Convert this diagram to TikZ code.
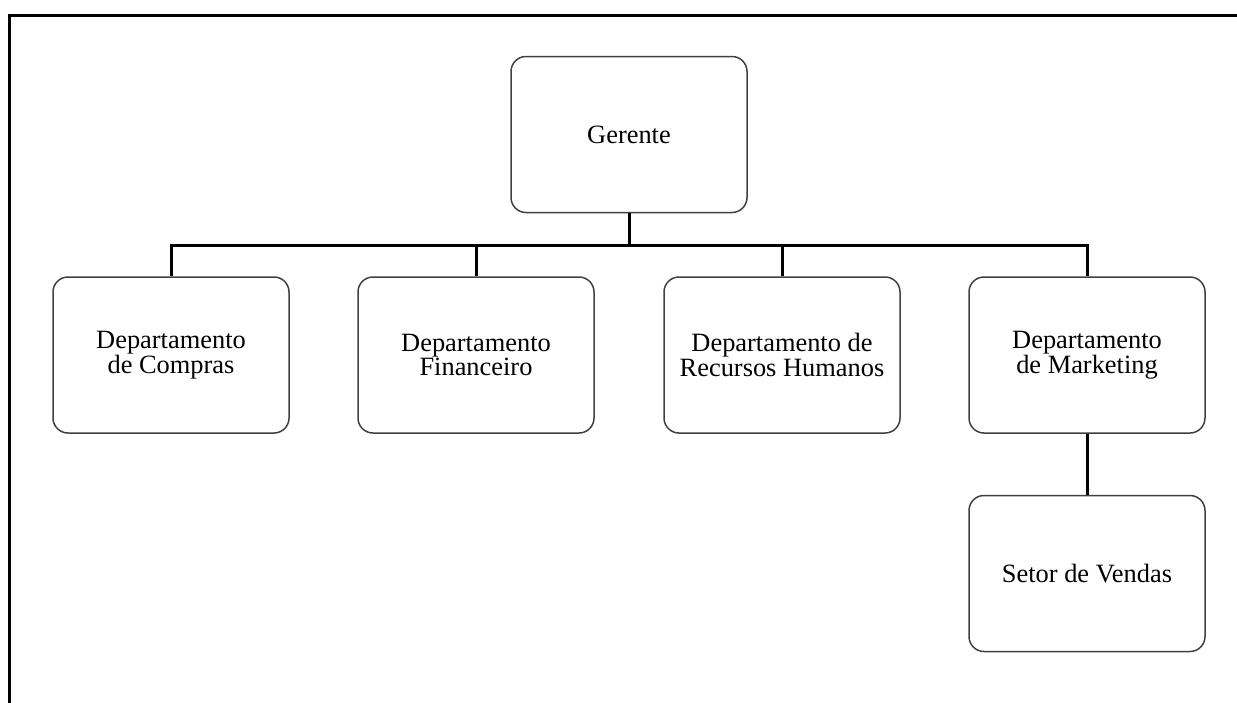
\documentclass[tikz,border=0pt]{standalone}
\usepackage{fontspec}
\setmainfont{Liberation Serif}
\tikzset{
  unit/.style={draw=black!75, line width=0.75pt, rounded corners=7.5pt,
    minimum width=118pt, minimum height=78pt, align=center,
    font=\fontsize{13.2}{12.2}\selectfont},
  link/.style={line width=1.5pt}
}
\begin{document}
\begin{tikzpicture}[x=0.5pt,y=-0.5pt]
       \useasboundingbox (0,0) rectangle (1237,702);
       \clip (0,0) rectangle (1237,702);
       \draw[line width=1.5pt] (9,720) -- (9,15) -- (1250,15);
       \node[unit] (ger) at (629,134.5) {Gerente};
       \node[unit] (dc) at (171,355) {Departamento\\de Compras};
       \node[unit] (df) at (476,355) {Departamento\\Financeiro};
       \node[unit] (drh) at (782,355) {Departamento de\\Recursos Humanos};
       \node[unit] (dm) at (1087,355) {Departamento\\de Marketing};
       \node[unit] (sv) at (1087,573.5) {Setor de Vendas};
       \coordinate (bar) at (629,245);
       \draw[link] (ger.south) -- (bar);
       \draw[link] (dc.north) -- (dc.north |- bar) -- (dm.north |- bar) -- (dm.north);
       \foreach \d in {df,drh}
         \draw[link] (\d.north) -- (\d.north |- bar);
       \draw[link] (dm.south) -- (sv.north);
    \end{tikzpicture}
\end{document}
